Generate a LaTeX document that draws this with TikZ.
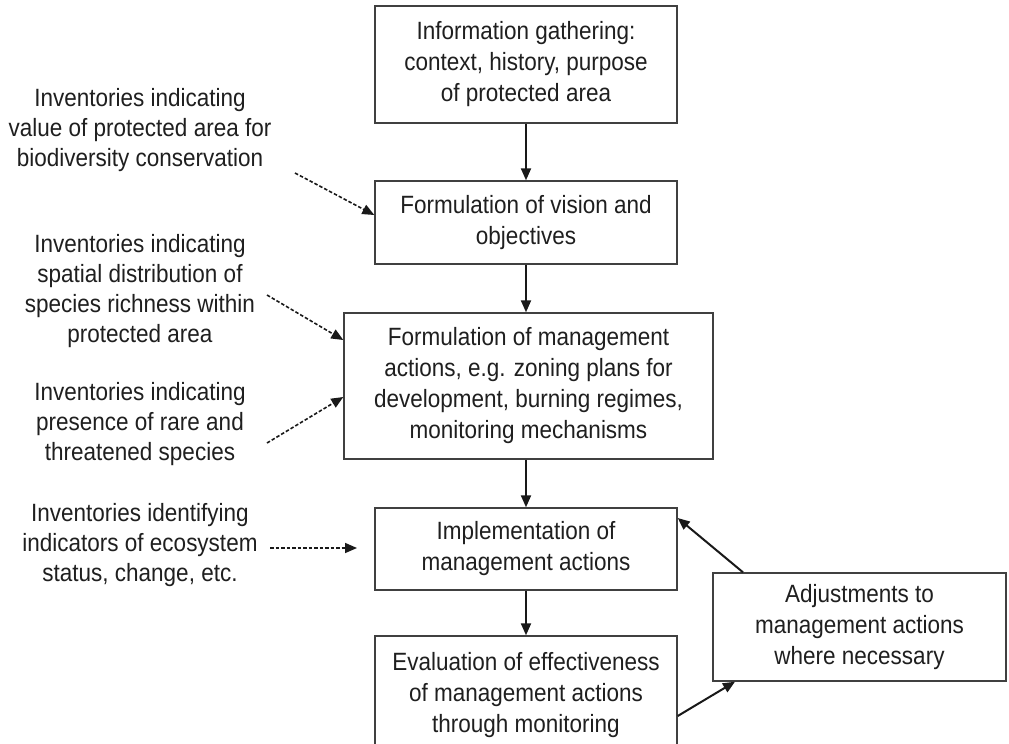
\documentclass[tikz,border=0pt]{standalone}
\usepackage{fontspec}
\setmainfont{Liberation Sans}[FakeStretch=0.9]
\usetikzlibrary{arrows.meta}
\begin{document}
\begin{tikzpicture}[x=1pt,y=-1pt,
  box/.style={draw=black!75, line width=1.4pt, align=center, inner sep=0pt,
    text=black!88, font=\fontsize{25}{31}\selectfont},
  lab/.style={align=center, inner sep=0pt, text=black!88,
    font=\fontsize{25}{30}\selectfont},
  flow/.style={-{Triangle[length=12pt,width=10pt]}, line width=2pt, black!90},
  inv/.style={-{Triangle[length=12pt,width=10pt]}, line width=1.6pt, black!90,
    dash pattern=on 3.5pt off 2pt}]
\useasboundingbox (0,0) rectangle (1009,744);
\clip (0,0) rectangle (1009,744);
\fill[white] (0,0) rectangle (1009,744);

\node[box, minimum width=302pt, minimum height=117pt] (b1) at (526,64.5)
  {Information gathering:\\context, history, purpose\\of protected area};
\node[box, minimum width=302pt, minimum height=83pt] (b2) at (526,222.5)
  {Formulation of vision and\\objectives};
\node[box, minimum width=369pt, minimum height=146pt] (b3) at (528.5,386)
  {Formulation of management\\actions, e.g. zoning plans for\\development, burning regimes,\\monitoring mechanisms};
\node[box, minimum width=302pt, minimum height=82pt] (b4) at (526,549)
  {Implementation of\\management actions};
\node[box, minimum width=302pt, minimum height=118pt] (b5) at (526,695)
  {Evaluation of effectiveness\\of management actions\\through monitoring};
\node[box, minimum width=293pt, minimum height=108pt] (adj) at (859.5,627)
  {Adjustments to\\management actions\\where necessary};

\node[lab] (l1) at (140,130) {Inventories indicating\\value of protected area for\\biodiversity conservation};
\node[lab] (l2) at (140,291) {Inventories indicating\\spatial distribution of\\species richness within\\protected area};
\node[lab] (l3) at (140,424) {Inventories indicating\\presence of rare and\\threatened species};
\node[lab] (l4) at (140,545) {Inventories identifying\\indicators of ecosystem\\status, change, etc.};

\coordinate (s1) at (295,173);
\coordinate (s2) at (267,295);
\coordinate (s3) at (267,443);
\coordinate (s4) at (270,548);
\coordinate (e4) at (357,548);

\draw[flow] (b1.south) -- (b2.north);
\draw[flow] (b2.south) -- (b3.north -| b2.south);
\draw[flow] (b3.south -| b4.north) -- (b4.north);
\draw[flow] (b4.south) -- (b5.north);
\draw[flow] (b5.east |- 0,716) -- (adj.south west -| 735,0);
\draw[flow] (adj.north west -| 743,0) -- (b4.east |- 0,518);

\draw[inv] (s1) -- (b2.west |- 0,215);
\draw[inv] (s2) -- (b3.west |- 0,340);
\draw[inv] (s3) -- (b3.west |- 0,397);
\draw[inv] (s4) -- (e4);
\end{tikzpicture}
\end{document}
